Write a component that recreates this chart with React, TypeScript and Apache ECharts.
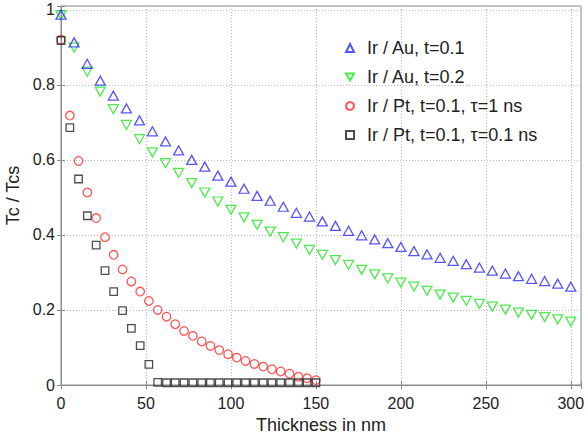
import React, { useEffect, useRef } from "react";
import * as echarts from "echarts";

const xAu = [0, 7.7, 15.4, 23.1, 30.8, 38.5, 46.2, 53.8, 61.5, 69.2, 76.9, 84.6, 92.3, 100, 107.7, 115.4, 123.1, 130.8, 138.5, 146.2, 153.8, 161.5, 169.2, 176.9, 184.6, 192.3, 200, 207.7, 215.4, 223.1, 230.8, 238.5, 246.2, 253.8, 261.5, 269.2, 276.9, 284.6, 292.3, 300];
const irAu01 = [0.987, 0.913, 0.856, 0.811, 0.771, 0.737, 0.705, 0.676, 0.649, 0.625, 0.6, 0.582, 0.558, 0.542, 0.523, 0.504, 0.491, 0.475, 0.459, 0.449, 0.436, 0.424, 0.411, 0.399, 0.388, 0.378, 0.368, 0.357, 0.348, 0.339, 0.331, 0.322, 0.313, 0.305, 0.297, 0.29, 0.283, 0.277, 0.27, 0.262];
const irAu02 = [0.985, 0.899, 0.835, 0.782, 0.735, 0.693, 0.655, 0.62, 0.591, 0.565, 0.538, 0.513, 0.489, 0.467, 0.447, 0.427, 0.409, 0.394, 0.377, 0.36, 0.347, 0.333, 0.32, 0.307, 0.295, 0.284, 0.273, 0.262, 0.251, 0.241, 0.233, 0.224, 0.216, 0.209, 0.201, 0.193, 0.187, 0.181, 0.175, 0.169];
const xPt = [0, 5.2, 10.3, 15.5, 20.7, 25.9, 31.0, 36.2, 41.4, 46.6, 51.7, 56.9, 62.1, 67.2, 72.4, 77.6, 82.8, 87.9, 93.1, 98.3, 103.4, 108.6, 113.8, 119.0, 124.1, 129.3, 134.5, 139.7, 144.8, 150];
const irPt1ns = [0.92, 0.718, 0.597, 0.513, 0.445, 0.394, 0.347, 0.308, 0.276, 0.249, 0.224, 0.2, 0.182, 0.162, 0.144, 0.131, 0.116, 0.104, 0.093, 0.082, 0.073, 0.064, 0.056, 0.049, 0.042, 0.036, 0.03, 0.022, 0.018, 0.013];
const irPt01ns = [0.918, 0.686, 0.549, 0.451, 0.373, 0.305, 0.249, 0.198, 0.151, 0.105, 0.055, 0.007, 0.006, 0.006, 0.006, 0.006, 0.006, 0.006, 0.006, 0.006, 0.006, 0.006, 0.006, 0.006, 0.006, 0.006, 0.006, 0.006, 0.006, 0.006];

const seriesNames = ["Ir / Au, t=0.1", "Ir / Au, t=0.2", "Ir / Pt, t=0.1, τ=1 ns", "Ir / Pt, t=0.1, τ=0.1 ns"];
const xTicks = [0, 50, 100, 150, 200, 250, 300];
const yTicks = [0, 0.2, 0.4, 0.6, 0.8, 1];

const FONT = "Liberation Sans, Arial, Helvetica, sans-serif";
const INV_TRI = "path://M0,0 L10,0 L5,8.66 Z";

const pairs = (xs: number[], ys: number[]) => xs.map((x, i) => [x, ys[i]]);

export default function App() {
  const ref = useRef<HTMLDivElement>(null);
  useEffect(() => {
    if (!ref.current) return;
    const chart = echarts.init(ref.current, null, { renderer: "svg" });
    const axisGray = "#8a8a8a";
    const hollow = (c: string) => ({ color: "rgba(0,0,0,0)", borderColor: c, borderWidth: 1.3 });
    chart.setOption({
      animation: false,
      backgroundColor: "#ffffff",
      textStyle: { fontFamily: FONT },
      grid: {
        left: 61, right: 7, top: 6, bottom: 56,
        show: true, borderColor: axisGray, borderWidth: 1,
        containLabel: false, outerBoundsMode: "none",
      },
      legend: {
        orient: "vertical",
        left: 340,
        top: 34,
        itemWidth: 8,
        itemHeight: 8,
        itemGap: 11,
        symbolKeepAspect: true,
        textStyle: { fontFamily: FONT, fontSize: 18, color: "#222", padding: [0, 0, 0, 8] },
        data: seriesNames,
      },
      xAxis: [
        {
          type: "value", min: 0, max: 306, interval: 50,
          name: "Thickness in nm", nameLocation: "middle", nameGap: 29,
          nameTextStyle: { fontFamily: FONT, fontSize: 18, color: "#222" },
          axisLine: { show: true, lineStyle: { color: axisGray, width: 1 } },
          axisTick: { show: true, inside: true, length: 4, lineStyle: { color: axisGray } },
          axisLabel: {
            fontFamily: FONT, fontSize: 16, color: "#222", margin: 10,
            formatter: (v: number) => (xTicks.some((t) => Math.abs(t - v) < 1e-6) ? String(v) : ""),
          },
          splitLine: { show: true, lineStyle: { color: "#b8b8b8", type: [1, 2], width: 1 } },
        },
        {
          type: "value", min: 0, max: 306, interval: 50, position: "top",
          axisLine: { show: true, lineStyle: { color: axisGray, width: 1 } },
          axisTick: { show: true, inside: true, length: 4, lineStyle: { color: axisGray } },
          axisLabel: { show: false },
          splitLine: { show: false },
        },
      ],
      yAxis: [
        {
          type: "value", min: 0, max: 1.01, interval: 0.2,
          name: "Tc / Tcs", nameLocation: "middle", nameGap: 33,
          nameTextStyle: { fontFamily: FONT, fontSize: 18, color: "#222" },
          axisLine: { show: true, lineStyle: { color: axisGray, width: 1 } },
          axisTick: { show: true, inside: true, length: 4, lineStyle: { color: axisGray } },
          axisLabel: {
            fontFamily: FONT, fontSize: 16, color: "#222", margin: 6,
            formatter: (v: number) => {
              const t = yTicks.find((k) => Math.abs(k - v) < 1e-6);
              return t === undefined ? "" : String(t);
            },
          },
          splitLine: { show: true, lineStyle: { color: "#b8b8b8", type: [1, 2], width: 1 } },
        },
        {
          type: "value", min: 0, max: 1.01, interval: 0.2, position: "right",
          axisLine: { show: true, lineStyle: { color: axisGray, width: 1 } },
          axisTick: { show: true, inside: true, length: 4, lineStyle: { color: axisGray } },
          axisLabel: { show: false },
          splitLine: { show: false },
        },
      ],
      series: [
        {
          name: seriesNames[0], type: "scatter", data: pairs(xAu, irAu01),
          symbol: "triangle", symbolSize: [10, 9], itemStyle: hollow("#2a2aff"), z: 4,
        },
        {
          name: seriesNames[1], type: "scatter", data: pairs(xAu, irAu02),
          symbol: INV_TRI, symbolSize: [10, 9], itemStyle: hollow("#22e622"), z: 3,
        },
        {
          name: seriesNames[2], type: "scatter", data: pairs(xPt, irPt1ns),
          symbol: "circle", symbolSize: 8.5, itemStyle: hollow("#ff2a2a"), z: 2,
        },
        {
          name: seriesNames[3], type: "scatter", data: pairs(xPt, irPt01ns),
          symbol: "rect", symbolSize: 7.5, itemStyle: hollow("#222222"), z: 5,
        },
      ],
    });
    return () => chart.dispose();
  }, []);
  return <div ref={ref} style={{ position: "fixed", left: 0, top: 0, width: 588, height: 441 }} />;
}
